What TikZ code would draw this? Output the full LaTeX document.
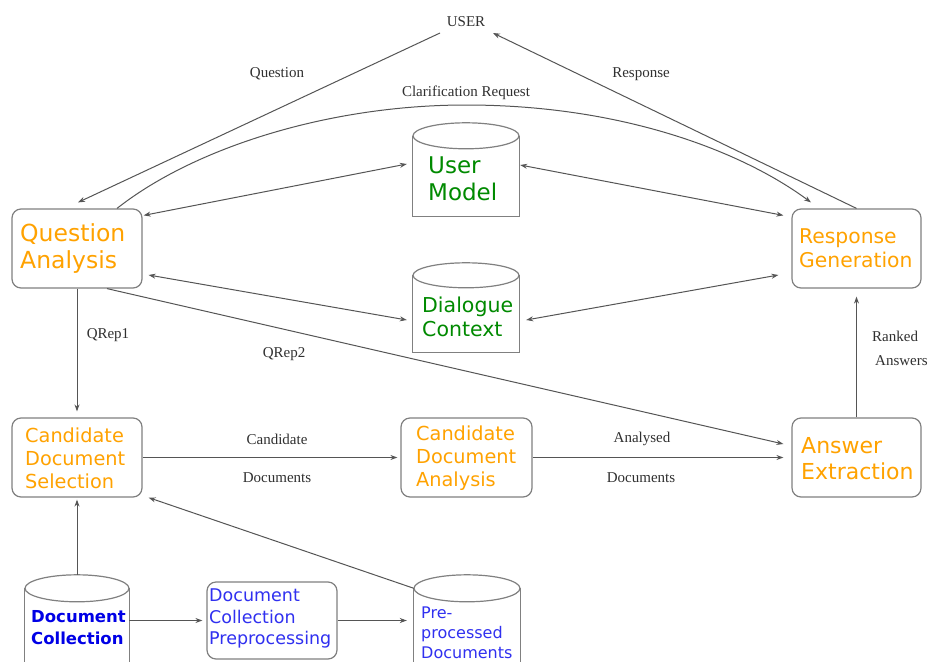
\documentclass[tikz,border=0pt]{standalone}
\usepackage{fontspec}
\setmainfont{Liberation Serif}
\newfontfamily\dejavu{DejaVu Sans}
\usetikzlibrary{arrows.meta,calc}

\definecolor{qorange}{HTML}{FFA200}
\definecolor{qgreen}{HTML}{008A00}
\definecolor{qblue}{HTML}{3030F0}
\definecolor{qdblue}{HTML}{0000E6}
\definecolor{boxgray}{HTML}{808080}
\definecolor{linegray}{HTML}{555555}
\definecolor{labelgray}{HTML}{303030}

\tikzset{
  box/.style={draw=boxgray, line width=1.2pt, rounded corners=9pt, inner sep=0pt},
  cylbody/.style={inner sep=0pt},
  cylline/.style={draw=boxgray, line width=1.2pt},
  txt/.style={anchor=west, align=left, inner sep=0pt},
  lbl/.style={font=\fontsize{15}{17}\selectfont, text=labelgray, inner sep=0pt},
  conn/.style={draw=linegray, line width=1pt, -{Stealth[length=7pt,width=5pt]}},
  both/.style={draw=linegray, line width=1pt, {Stealth[length=7pt,width=5pt]}-{Stealth[length=7pt,width=5pt]}},
}

\begin{document}
\begin{tikzpicture}[x=1pt,y=-1pt]
\clip (0,0) rectangle (928,661);
\fill[white] (0,0) rectangle (928,661);

% ---- process boxes ----
\node[box, minimum width=130pt, minimum height=79pt] (qa)  at (77,248.5) {};
\node[box, minimum width=129pt, minimum height=79pt] (rg)  at (856.5,248.5) {};
\node[box, minimum width=130pt, minimum height=79pt] (cds) at (77,457.5) {};
\node[box, minimum width=131pt, minimum height=79pt] (cda) at (466.5,457.5) {};
\node[box, minimum width=129pt, minimum height=79pt] (ae)  at (856.5,457.5) {};
\node[box, minimum width=130pt, minimum height=77pt] (dcp) at (272,620.5) {};

% ---- data stores (cylinders: north edge at the centre of the lid) ----
\node[cylbody, minimum width=106pt, minimum height=80pt]   (um)   at (466,176) {};
\node[cylbody, minimum width=106pt, minimum height=76.5pt] (dc)   at (466,313.75) {};
\node[cylbody, minimum width=104pt, minimum height=120pt]  (dcol) at (77,648.5) {};
\node[cylbody, minimum width=106pt, minimum height=120pt]  (pre)  at (467,648.5) {};

\foreach \c/\rx/\ry in {um/53/13, dc/53/12.5, dcol/52/13.5, pre/53/13.5}{
  \fill[white] (\c.north west) rectangle (\c.south east);
  \draw[cylline] (\c.north west) -- (\c.south west) -- (\c.south east) -- (\c.north east);
  \draw[cylline, fill=white] (\c.north) ellipse [x radius=\rx pt, y radius=\ry pt];
}

% ---- texts in boxes ----
\node[txt, font=\dejavu\fontsize{23.5}{27}\selectfont, text=qorange] (tqa) at (20,248.5) {Question\\Analysis};
\node[txt, font=\dejavu\fontsize{20.3}{24}\selectfont, text=qorange] (trg) at (799,248) {Response\\Generation};
\node[txt, font=\dejavu\fontsize{19.3}{23}\selectfont, text=qorange] (tcds) at (25,458) {Candidate\\Document\\Selection};
\node[txt, font=\dejavu\fontsize{19.3}{23}\selectfont, text=qorange] (tcda) at (416,458) {Candidate\\Document\\Analysis};
\node[txt, font=\dejavu\fontsize{22}{26}\selectfont, text=qorange] (tae) at (801,459) {Answer\\Extraction};
\node[txt, font=\dejavu\fontsize{17.5}{21.5}\selectfont, text=qblue] (tdcp) at (209,618.5) {Document\\Collection\\Preprocessing};

\node[txt, font=\dejavu\fontsize{23}{27}\selectfont, text=qgreen] (tum) at (428,178.5) {User\\Model};
\node[txt, font=\dejavu\fontsize{20.5}{24}\selectfont, text=qgreen] (tdc) at (422,316.5) {Dialogue\\Context};
\node[txt, font=\dejavu\bfseries\fontsize{16.5}{21.5}\selectfont, text=qdblue] (tdcol) at (31,627.5) {Document\\Collection};
\node[txt, font=\dejavu\fontsize{16}{20}\selectfont, text=qblue] (tpre) at (421,632.5) {Pre-\\processed\\Documents};

% ---- user ----
\node[lbl] (user) at (466,22) {USER};

% ---- connectors ----
\draw[conn] ([xshift=-26pt,yshift=-11pt]user.center) -- ([xshift=1pt,yshift=6pt]qa.north);
\draw[conn] (rg.north) -- ([xshift=27pt,yshift=-11pt]user.center);
\draw[conn] ([xshift=40pt]qa.north) .. controls (195,147) and (330,105) .. (466,105)
            .. controls (620,105) and (740,150) .. ([xshift=-45.5pt,yshift=6pt]rg.north);

\draw[both] ([xshift=1pt,yshift=-7pt]qa.north east) -- ([xshift=-6pt,yshift=12pt]um.west);
\draw[both] ([xshift=1pt,yshift=11pt]um.east) -- ([xshift=-8pt,yshift=-7pt]rg.north west);
\draw[both] ([xshift=6pt,yshift=-26.5pt]qa.east) -- ([xshift=-6pt,yshift=-6.25pt]dc.west);
\draw[both] ([xshift=7pt,yshift=-6.25pt]dc.east) -- ([xshift=-13pt,yshift=-26.5pt]rg.west);

\draw[conn] ([xshift=30pt]qa.south) -- ([xshift=-8pt,yshift=13.5pt]ae.west);
\draw[conn, shorten >=6pt] (qa.south) -- (cds.north);
\draw[conn, shorten >=3pt] (cds.east) -- (cda.west);
\draw[conn, shorten >=8pt] (cda.east) -- (ae.west);
\draw[conn, shorten >=8pt] (ae.north) -- (rg.south);

\draw[conn, shorten >=2pt] ([yshift=13.5pt]dcol.north) -- (cds.south);
\draw[conn] (pre.north west) -- ([xshift=6pt]cds.south east);
\draw[conn, shorten >=4pt] (dcol.east |- dcp.west) -- (dcp.west);
\draw[conn, shorten >=7pt] (dcp.east) -- (pre.west |- dcp.east);

% ---- connector labels ----
\node[lbl] (lq)   at (277,74)  {Question};
\node[lbl] (lr)   at (641,74)  {Response};
\node[lbl] (lcr)  at (466,93)  {Clarification Request};
\node[lbl] (lq1)  at (108,335) {QRep1};
\node[lbl] (lq2)  at (284,354) {QRep2};
\node[lbl] (lc1)  at (277,439) {Candidate};
\node[lbl] (lc2)  at (277,478) {Documents};
\node[lbl] (la1)  at (642,439) {Analysed};
\node[lbl] (la2)  at (641,478) {Documents};
\node[lbl, anchor=west] (lra1) at (872,336) {Ranked};
\node[lbl, anchor=west] (lra2) at (875,361) {Answers};
\end{tikzpicture}
\end{document}
